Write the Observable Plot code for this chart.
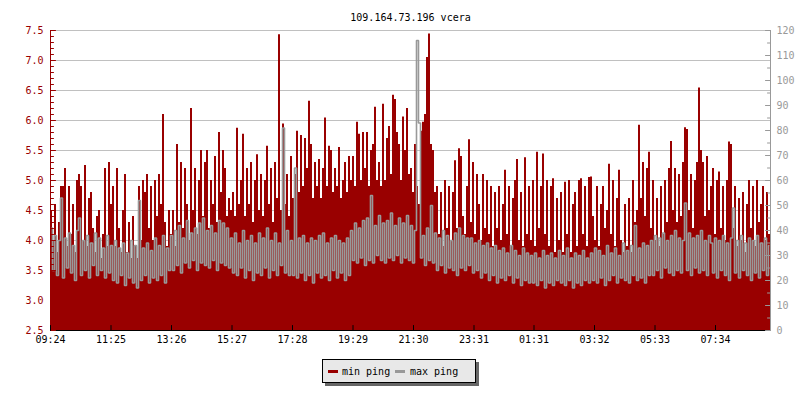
<!DOCTYPE html>
<html><head><meta charset="utf-8">
<script src="https://cdn.jsdelivr.net/npm/d3@7"></script>
<script src="https://cdn.jsdelivr.net/npm/@observablehq/plot@0.6"></script>
<style>
body{margin:0;background:#fff;}
#wrap{position:relative;width:800px;height:400px;font-family:"DejaVu Sans Mono",monospace;}
#legend{position:absolute;left:322px;top:359px;}
</style></head><body><div id="wrap"><div id="chart"></div><svg id="legend" width="160" height="30"></svg></div>
<script>
const title = "109.164.73.196 vcera";
const startTime = "09:24";
const stepMinutes = 4;
const timeTickLabels = ["09:24","11:25","13:26","15:27","17:28","19:29","21:30","23:31","01:31","03:32","05:33","07:34"];
const leftTicks = [2.5,3.0,3.5,4.0,4.5,5.0,5.5,6.0,6.5,7.0,7.5];
const rightTicks = [0,10,20,30,40,50,60,70,80,90,100,110,120];
const seriesNames = ["min ping","max ping"];
const seriesColors = ["#990000","#999999"];

// min ping (ms, left axis), one value per 4 minutes
const minPing = [
4.5,4.0,4.6,3.8,4.3,4.9,4.9,5.2,3.9,4.9,4.1,4.6,3.8,5.0,5.1,4.9,4.0,5.25,3.9,4.7,4.8,4.2,3.8,4.4,4.5,3.7,4.1,5.2,3.9,5.3,
4.6,4.9,3.9,5.2,4.2,3.8,4.5,5.1,3.8,4.3,3.7,4.4,3.9,3.7,4.9,4.0,5.0,4.8,5.1,4.2,4.9,4.0,5.0,4.4,5.1,4.6,6.1,4.3,3.9,4.5,
4.1,4.5,3.9,5.6,4.3,5.3,4.2,5.2,4.6,4.0,6.2,4.5,5.2,4.1,5.0,5.5,4.4,5.3,5.5,4.2,5.0,4.6,5.4,4.3,5.8,4.8,5.5,5.2,4.4,4.7,
4.5,4.8,4.4,5.87,4.6,5.0,5.77,4.4,5.2,4.6,5.3,4.3,5.0,5.43,4.5,5.1,4.4,5.0,5.57,4.6,5.2,4.3,5.3,4.7,7.43,4.5,5.94,4.6,5.1,4.4,
5.4,4.7,5.1,5.82,4.8,5.75,4.9,5.7,5.2,6.32,5.6,4.7,5.3,4.9,5.35,4.7,5.2,6.04,4.9,5.57,5.5,4.8,5.2,4.9,5.55,4.7,5.0,5.3,4.8,5.4,
5.0,5.4,4.9,5.97,5.77,5.0,5.8,5.2,5.8,4.9,5.5,5.6,6.22,5.0,5.3,4.9,6.27,5.0,5.7,5.9,5.1,6.42,6.35,5.8,5.6,5.0,6.06,5.5,6.2,5.1,
5.2,4.8,5.6,4.9,4.6,5.82,5.97,6.1,7.05,7.44,5.6,5.5,4.8,4.9,4.1,4.8,3.9,5.0,4.2,4.9,4.0,4.8,5.33,4.2,5.53,5.4,4.4,4.1,4.9,5.68,
4.3,5.3,4.1,5.1,4.6,4.0,5.1,4.2,5.0,4.1,4.9,3.9,4.8,4.2,4.9,4.0,4.6,5.17,4.1,4.9,3.9,4.7,5.0,5.35,4.0,4.8,3.9,5.38,4.1,4.9,
4.0,5.0,3.9,5.47,4.2,4.9,5.44,4.1,5.0,3.9,4.9,5.03,3.8,4.7,4.0,4.8,3.8,4.97,4.1,5.0,3.8,4.6,4.8,3.9,5.0,5.03,4.1,4.9,3.9,5.05,
5.06,4.4,4.0,4.9,3.9,4.6,4.9,4.2,4.5,5.27,4.1,5.0,3.9,4.7,5.17,4.0,3.8,4.6,3.9,4.7,3.8,5.0,4.3,4.5,5.92,4.7,5.3,4.4,5.2,5.47,
4.2,5.0,4.0,4.7,3.9,4.9,4.1,5.0,4.3,5.2,5.65,4.5,5.2,4.3,5.1,4.4,5.3,5.88,5.85,4.5,5.1,4.2,5.0,5.3,6.54,5.5,5.3,4.4,5.4,4.5,
4.9,5.2,4.1,5.0,5.14,4.2,4.9,4.0,5.0,5.64,5.6,4.2,4.9,3.9,4.7,4.0,4.8,3.8,4.6,5.0,4.2,4.9,3.9,5.0,4.3,4.6,4.9,4.0,4.8,4.1
];
// max ping (ms, right axis), one value per 4 minutes
const maxPing = [
41,24,38,22,36,53,21,37,25,39,23,34,20,40,45,22,36,24,38,21,35,26,39,22,37,24,33,21,38,23,
34,20,36,19,33,22,35,18,31,21,36,19,34,17,52,20,33,22,35,19,32,21,37,20,34,22,38,19,33,24,
38,24,40,26,42,23,37,27,44,25,39,28,41,24,43,27,45,26,40,25,42,28,39,24,44,27,43,26,41,25,
37,23,39,22,35,25,40,21,36,24,38,20,35,23,39,22,37,25,41,21,36,24,39,22,35,26,81,23,40,22,
36,22,65,21,37,23,38,20,35,22,37,19,36,23,38,21,39,22,35,20,37,24,38,21,36,23,35,20,37,22,
40,28,43,27,41,29,44,26,45,28,54,27,42,30,46,28,43,27,44,29,47,28,42,30,45,27,43,29,46,28,
42,27,40,116,83,29,38,26,41,28,50,27,39,24,37,26,40,23,38,25,36,24,39,22,41,25,38,24,37,26,
37,23,35,24,36,21,34,23,35,20,33,22,34,19,32,21,33,20,31,22,34,19,32,21,30,18,33,20,31,19,
30,19,31,18,29,20,32,17,30,19,31,18,29,20,32,19,30,18,33,20,29,17,31,19,30,18,32,20,29,19,
31,20,33,19,32,21,30,18,34,20,31,22,33,19,30,21,35,20,32,19,34,22,42,20,33,21,35,19,34,22,
36,22,38,24,37,21,39,25,36,23,38,22,40,24,37,23,36,51,24,39,22,37,25,38,23,40,24,36,22,38,
35,23,37,21,36,24,38,22,35,20,37,49,23,36,21,38,24,35,22,37,20,36,23,38,21,35,24,37,22,34
];

const toMin = s => { const [h, m] = s.split(":").map(Number); return h * 60 + m; };
const t0 = toMin(startTime);
const tickPos = timeTickLabels.map(s => (toMin(s) - t0 + 1440) % 1440);
const tickLabelAt = new Map(tickPos.map((p, i) => [p, timeTickLabels[i]]));
const span = minPing.length * stepMinutes;
const leftDomain = [leftTicks[0], leftTicks[leftTicks.length - 1]];
const rightDomain = [rightTicks[0], rightTicks[rightTicks.length - 1]];
const rightToLeft = v => leftDomain[0] + (v - rightDomain[0]) * (leftDomain[1] - leftDomain[0]) / (rightDomain[1] - rightDomain[0]);
const rightPos = rightTicks.map(rightToLeft);
const rightLabelAt = new Map(rightPos.map((p, i) => [p, String(rightTicks[i])]));

const data = minPing.map((v, i) => ({t: i * stepMinutes, min: v, max: maxPing[i]}));
const areaData = [...data, {t: span, min: minPing[minPing.length - 1], max: maxPing[maxPing.length - 1]}];

const red = seriesColors[0], gray = seriesColors[1];
const tickShape = {draw(context, l) { context.moveTo(0, 0); context.lineTo(0, -l); }};
const leftMinor = d3.range(0, 51).map(k => leftDomain[0] + k * (leftDomain[1] - leftDomain[0]) / 50);
const rightMinor = d3.range(0, 25).map(k => rightToLeft(rightDomain[0] + k * (rightDomain[1] - rightDomain[0]) / 24));

const chart = Plot.plot({
  width: 800, height: 400,
  marginTop: 30, marginBottom: 70, marginLeft: 50, marginRight: 30,
  style: {fontFamily: "'DejaVu Sans Mono', monospace", fontSize: "10px", background: "transparent", color: "#000"},
  x: {type: "linear", domain: [0, span], axis: null},
  y: {domain: leftDomain, axis: null},
  marks: [
    Plot.ruleY(leftTicks.slice(1), {stroke: "#c0c0c0", strokeWidth: 1}),
    Plot.areaY(areaData, {x: "t", y1: leftDomain[0], y2: "min", curve: "step-after", fill: red}),
    Plot.line(data, {x: d => d.t + stepMinutes / 2, y: d => rightToLeft(d.max), curve: "step", stroke: gray, strokeWidth: 1.6, strokeLinejoin: "miter", strokeLinecap: "butt"}),
    Plot.ruleX([0], {stroke: red}),
    Plot.ruleX([span], {stroke: "#999999"}),
    Plot.ruleY([leftDomain[0]], {stroke: "#000"}),
    Plot.vector(leftMinor, {x: 0, y: d => d, length: 3, rotate: 90, anchor: "start", shape: tickShape, stroke: red, strokeWidth: 1}),
    Plot.vector(leftTicks, {x: 0, y: d => d, length: 5, rotate: 90, anchor: "start", shape: tickShape, stroke: red, strokeWidth: 1}),
    Plot.vector(rightMinor, {x: span, y: d => d, length: 3, rotate: -90, anchor: "start", shape: tickShape, stroke: "#999999", strokeWidth: 1}),
    Plot.vector(rightPos, {x: span, y: d => d, length: 5, rotate: -90, anchor: "start", shape: tickShape, stroke: "#999999", strokeWidth: 1}),
    Plot.vector(tickPos, {x: d => d, y: leftDomain[0], length: 5, rotate: 0, anchor: "start", shape: tickShape, stroke: "#000", strokeWidth: 1}),
    Plot.axisY(leftTicks, {anchor: "left", tickSize: 0, tickPadding: 7, tickFormat: d => d.toFixed(1), fill: red, label: null, fontSize: 10}),
    Plot.axisY(rightPos, {anchor: "right", tickSize: 0, tickPadding: 6, tickFormat: d => rightLabelAt.get(d), fill: "#999999", label: null, fontSize: 10}),
    Plot.axisX(tickPos, {anchor: "bottom", tickSize: 0, tickPadding: 5, tickFormat: d => tickLabelAt.get(d), fill: "#000", label: null, fontSize: 10}),
    Plot.text([title], {text: d => d, frameAnchor: "top", dy: -17, fontSize: 10, fill: "#000"})
  ]
});
document.getElementById("chart").appendChild(chart);

// legend
const lg = d3.select("#legend").style("font-family", "'DejaVu Sans Mono', monospace").style("font-size", "10px");
lg.append("rect").attr("x", 3).attr("y", 3).attr("width", 154).attr("height", 24).attr("fill", "#666");
lg.append("rect").attr("x", 0.5).attr("y", 0.5).attr("width", 153).attr("height", 23).attr("fill", "#e8e8e8").attr("stroke", "#000");
const swX = [6, 73], txX = [20, 88];
seriesNames.forEach((name, i) => {
  lg.append("rect").attr("x", swX[i]).attr("y", 11).attr("width", 10).attr("height", 3).attr("fill", seriesColors[i]);
  lg.append("text").attr("x", txX[i]).attr("y", 15.5).attr("fill", "#000").text(name);
});
</script></body></html>
